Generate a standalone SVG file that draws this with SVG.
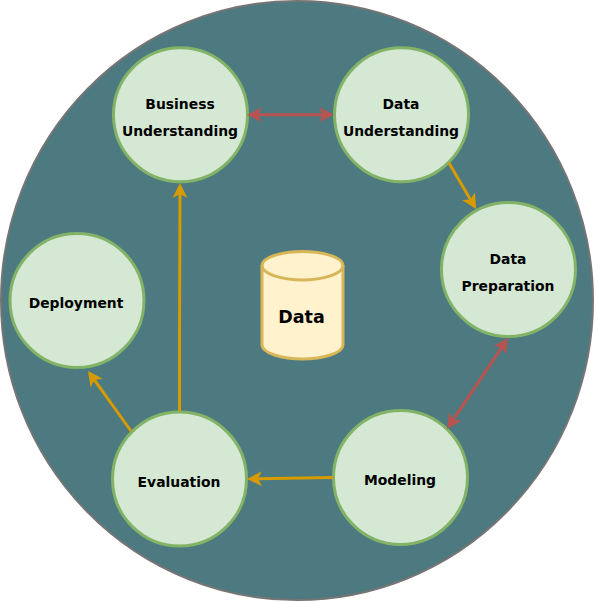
<svg xmlns="http://www.w3.org/2000/svg" width="594" height="602" viewBox="0 0 594 602">
<style>
.n{fill:#d5e8d4;stroke:#82b366;stroke-width:3}
.t{font-family:"DejaVu Sans",sans-serif;font-weight:bold;font-size:13.900px;fill:#000;text-anchor:middle}
.o{fill:none;stroke:#d79b00;stroke-width:3;marker-end:url(#ao)}
.r{fill:none;stroke:#b85450;stroke-width:3;marker-start:url(#ars);marker-end:url(#ar)}
</style>
<defs>
<marker id="ao" viewBox="0 0 16 16" refX="5" refY="8" markerUnits="userSpaceOnUse" markerWidth="16" markerHeight="16" orient="auto"><path d="M0 0.500L15 8L0 15.500L4 8Z" fill="#d79b00"/></marker>
<marker id="ar" viewBox="0 0 16 16" refX="5" refY="8" markerUnits="userSpaceOnUse" markerWidth="16" markerHeight="16" orient="auto"><path d="M0 0.500L15 8L0 15.500L4 8Z" fill="#b85450"/></marker>
<marker id="ars" viewBox="0 0 16 16" refX="11" refY="8" markerUnits="userSpaceOnUse" markerWidth="16" markerHeight="16" orient="auto"><path d="M16 0.500L1 8L16 15.500L12 8Z" fill="#b85450"/></marker>
</defs>
<g id="background"><ellipse cx="297" cy="300.500" rx="296" ry="299.500" fill="#4c7a80" stroke="#757575" stroke-width="2"/></g>
<g id="business"><circle class="n" cx="180.500" cy="114.800" r="67"/><text class="t" x="180" y="108.500">Business</text><text class="t" x="180" y="135.500">Understanding</text></g>
<g id="understanding"><circle class="n" cx="401.500" cy="114.800" r="67"/><text class="t" x="401" y="108.500">Data</text><text class="t" x="401" y="135.500">Understanding</text></g>
<g id="preparation"><circle class="n" cx="508.500" cy="269.500" r="67"/><text class="t" x="508" y="263.500">Data</text><text class="t" x="508" y="290.500">Preparation</text></g>
<g id="modeling"><circle class="n" cx="400.500" cy="477.500" r="67"/><text class="t" x="400" y="484.500">Modeling</text></g>
<g id="evaluation"><circle class="n" cx="179.500" cy="479" r="67"/><text class="t" x="179" y="486.500">Evaluation</text></g>
<g id="deployment"><circle class="n" cx="77" cy="300.500" r="67"/><text class="t" x="76" y="307.500">Deployment</text></g>
<g id="data"><path d="M262 265.500C262 257 282 251.500 302.500 251.500S343 257 343 265.500V345C343 353 323 359 302.500 359S262 353 262 345Z" fill="#fff2cc" stroke="#d6b656" stroke-width="3"/><path d="M262 265.500C262 274 282 280 302.500 280S343 274 343 265.500" fill="none" stroke="#d6b656" stroke-width="3"/><text x="301.500" y="323" font-family="DejaVu Sans,sans-serif" font-weight="bold" font-size="17.500" text-anchor="middle">Data</text></g>
<g id="connectors">
<path class="r" d="M257 114.800H324"/>
<path class="o" d="M449 163L471 200.400"/>
<path class="r" d="M502.400 346.300L452.600 420.700"/>
<path class="o" d="M333 477.500L257 478.800"/>
<path class="o" d="M131 431L93.800 379.100"/>
<path class="o" d="M179.500 411V341L180 193"/>
</g>
</svg>
